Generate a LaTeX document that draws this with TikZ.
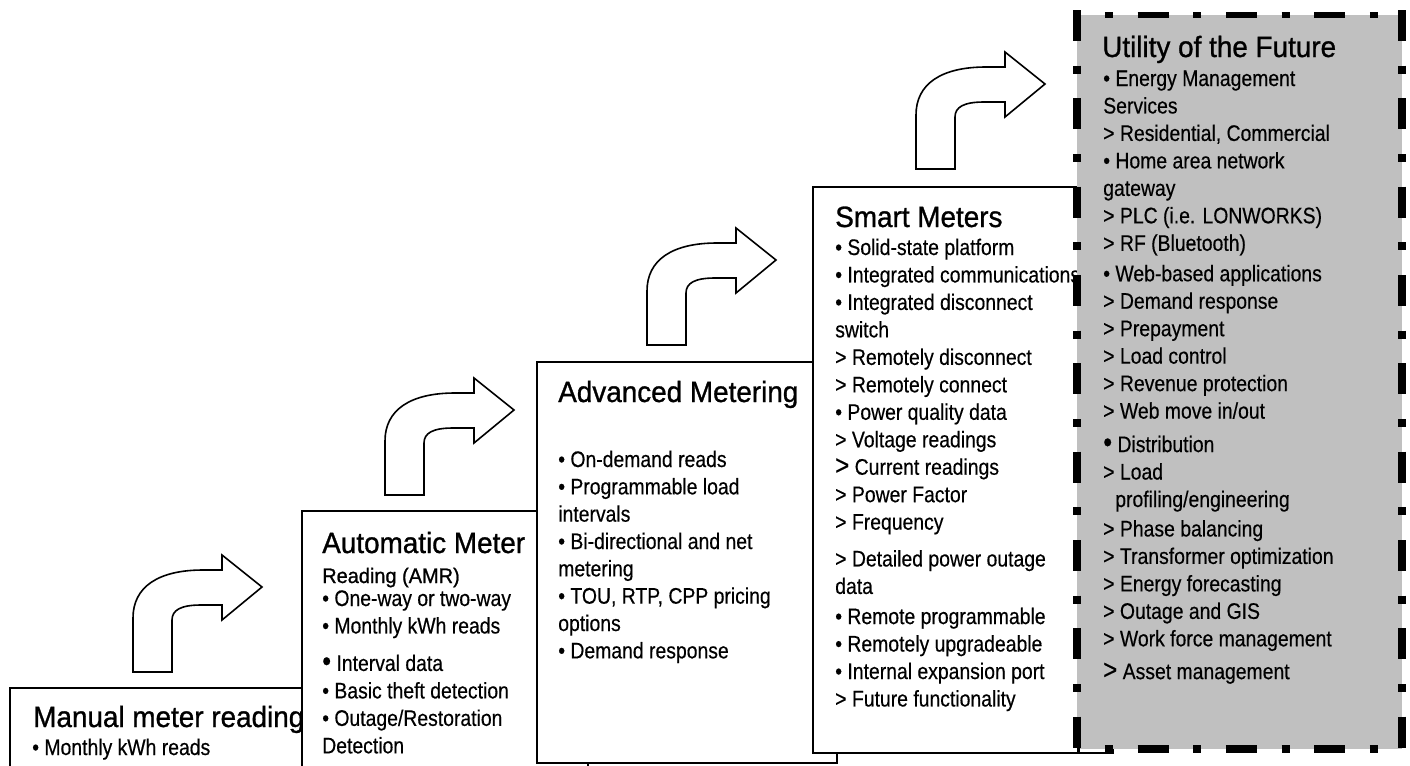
\documentclass[tikz,border=0pt]{standalone}
\usepackage{fontspec}
\setmainfont{Liberation Sans}[FakeStretch=0.86, FakeBold=0.4]
\newfontfamily\headfont{Liberation Sans}[FakeStretch=0.95, FakeBold=1]
\definecolor{futuregray}{RGB}{192,192,192}
\newcommand{\largebullet}{{\fontsize{22}{20}\selectfont •}}
\newcommand{\largegt}{{\fontsize{21}{20}\selectfont >}}

\begin{document}
\begin{tikzpicture}[x=0.75pt, y=-0.75pt,
    stagebox/.style={draw, line width=1.5pt, fill=white},
    headtext/.style={anchor=base west, inner sep=0pt, font=\headfont\fontsize{22}{26}\selectfont},
    bodytext/.style={anchor=base west, inner sep=0pt, font=\fontsize{16.9}{20.6}\selectfont},
    futureedge/.style={line width=6pt, dash pattern=on 23.25pt off 18.5pt on 6pt off 18.5pt},
    bentarrow/.pic={
        \draw[line width=1.2pt, fill=white, line join=miter]
            (0,0) -- (0,-54) .. controls (0,-85) and (25,-102) .. (70,-102)
            -- (89,-102) -- (89,-117) -- (129,-85) -- (89,-52) -- (89,-67)
            -- (68,-67) .. controls (48,-67) and (39,-62) .. (39,-52) -- (39,0) -- cycle;
    }
]
\useasboundingbox (0,0) rectangle (1410,765);
\clip (0,0) rectangle (1410,765);

% manual reading
\draw[stagebox] (10,688) rectangle (330,780);
\node[headtext] (manualhead) at (33,727) {Manual meter reading};
\node[bodytext] (manualbody) at (32,755) {• Monthly kWh reads};

% AMR
\draw[stagebox] (302,511) rectangle (588,780);
\node[headtext] (amrhead) at (322,553) {Automatic Meter};
\node[headtext, font=\headfont\fontsize{15.75}{18}\selectfont] (amrsub) at (322,583) {Reading (AMR)};
\node[bodytext] (amrbody) at (322,606) {\begin{tabular}[t]{@{}l@{}}
    • One-way or two-way\\
    • Monthly kWh reads\\[7.5pt]
    \largebullet{} Interval data\\
    • Basic theft detection\\
    • Outage/Restoration\\
    Detection
\end{tabular}};

% advanced metering
\draw[stagebox] (537,362) rectangle (837,763);
\node[headtext] (amihead) at (558,402) {Advanced Metering};
\node[bodytext, font=\fontsize{16.9}{20.5}\selectfont] (amibody) at (558,467) {\begin{tabular}[t]{@{}l@{}}
    • On-demand reads\\
    • Programmable load\\
    intervals\\
    • Bi-directional and net\\
    metering\\
    • TOU, RTP, CPP pricing\\
    options\\
    • Demand response
\end{tabular}};

% smart meters
\draw[stagebox] (813,187) rectangle (1113,753);
\node[headtext] (smarthead) at (835,227) {Smart Meters};
\node[bodytext] (smartbody) at (835,255) {\begin{tabular}[t]{@{}l@{}}
    • Solid-state platform\\
    • Integrated communications\\
    • Integrated disconnect\\
    switch\\
    > Remotely disconnect\\
    > Remotely connect\\
    • Power quality data\\
    > Voltage readings\\
    \largegt{} Current readings\\
    > Power Factor\\
    > Frequency\\[7pt]
    > Detailed power outage\\
    data\\[2pt]
    • Remote programmable\\
    • Remotely upgradeable\\
    • Internal expansion port\\
    > Future functionality
\end{tabular}};

% utility of the future
\fill[futuregray] (1077,15) rectangle (1402,749);
\coordinate (fnw) at (1077,10);
\coordinate (fsw) at (1077,752);
\coordinate (fne) at (1402,10);
\coordinate (fse) at (1402,752);
\draw[futureedge] (fnw) -- (fsw);
\draw[futureedge] (fne) -- (fse);
\draw[futureedge, line width=4pt, dash phase=20.8pt] (1077,15) -- (1402,15);
\draw[futureedge, dash phase=20.8pt] (1077,749) -- (1402,749);
\node[headtext] (futurehead) at (1102,57) {Utility of the Future};
\node[bodytext] (futurebody) at (1103,86) {\begin{tabular}[t]{@{}l@{}}
    • Energy Management\\
    Services\\
    > Residential, Commercial\\
    • Home area network\\
    gateway\\
    > PLC (i.e. LONWORKS)\\
    > RF (Bluetooth)\\[2.25pt]
    • Web-based applications\\
    > Demand response\\
    > Prepayment\\
    > Load control\\
    > Revenue protection\\
    > Web move in/out\\[4.5pt]
    \largebullet{} Distribution\\
    > Load\\
    \hspace*{9pt}profiling/engineering\\[1.5pt]
    > Phase balancing\\
    > Transformer optimization\\
    > Energy forecasting\\
    > Outage and GIS\\
    > Work force management\\[4pt]
    \largegt{} Asset management
\end{tabular}};

% arrows between the stages
\pic (step1) at (133,672) {bentarrow};
\pic (step2) at (385,495) {bentarrow};
\pic (step3) at (647,345) {bentarrow};
\pic (step4) at (916,169) {bentarrow};
\end{tikzpicture}
\end{document}
